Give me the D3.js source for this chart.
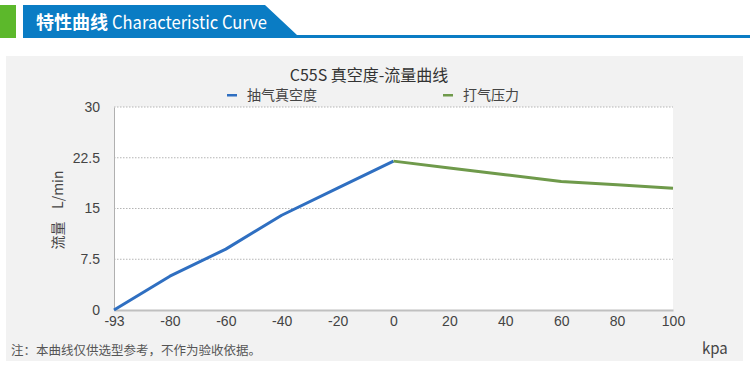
<!DOCTYPE html>
<html>
<head>
<meta charset="utf-8">
<script src="https://cdn.jsdelivr.net/npm/d3@7"></script>
<style>
  body { margin: 0; background: #fff; }
  svg { display: block; font-family: "Noto Sans CJK SC", "Noto Sans", sans-serif; }
</style>
</head>
<body>
<svg id="chart" width="750" height="375"></svg>
<script>
const xLabels = ["-93", "-80", "-60", "-40", "-20", "0", "20", "40", "60", "80", "100"];
const yTicks = [0, 7.5, 15, 22.5, 30];

// 抽气真空度 (blue), 打气压力 (green)
const suctionX = ["-93", "-80", "-60", "-40", "-20", "0"];
const suctionY = [0, 5, 9, 14, 18, 22];
const pressureX = ["0", "20", "40", "60", "80", "100"];
const pressureY = [22, 21, 20, 19, 18.5, 18];

const seriesNames = ["抽气真空度", "打气压力"];
const seriesColors = ["#2f6fc1", "#6f9a4b"];

const svg = d3.select("#chart");

// header banner
svg.append("rect").attr("x", 0).attr("y", 5).attr("width", 16).attr("height", 33).attr("fill", "#5cb82b");
svg.append("path")
  .attr("d", "M23,5 L265,5 L297,35 L750,35 L750,38 L23,38 Z")
  .attr("fill", "#0a7cc4");
svg.append("text").attr("x", 36).attr("y", 29).attr("fill", "#fff")
  .attr("font-size", 18).attr("font-weight", "bold")
  .attr("textLength", 72).text("特性曲线");
svg.append("text").attr("x", 112).attr("y", 29).attr("fill", "#fff")
  .attr("font-size", 18).attr("textLength", 155).attr("lengthAdjust", "spacingAndGlyphs")
  .text("Characteristic Curve");

// chart panel
svg.append("rect").attr("x", 6).attr("y", 56).attr("width", 737).attr("height", 305).attr("fill", "#f2f2f2");

const margin = { left: 114, right: 77, top: 107, bottom: 65 };
const width = 750 - margin.left - margin.right;
const height = 375 - margin.top - margin.bottom;

const x = d3.scalePoint().domain(xLabels).range([0, width]);
const y = d3.scaleLinear().domain([0, 30]).range([height, 0]);

const g = svg.append("g").attr("transform", `translate(${margin.left},${margin.top})`);

g.append("rect").attr("x", 0).attr("y", 0).attr("width", width).attr("height", height).attr("fill", "#fff");

// grid
g.append("g")
  .selectAll("line")
  .data(yTicks.filter((d) => d > 0))
  .join("line")
  .attr("x1", 0)
  .attr("x2", width)
  .attr("y1", (d) => y(d))
  .attr("y2", (d) => y(d))
  .attr("stroke", "#b5b5b5")
  .attr("stroke-dasharray", "1.5,1.5");

// y axis
const yAxis = g.append("g")
  .call(d3.axisLeft(y).tickValues(yTicks).tickFormat((d) => String(d)).tickSize(0).tickPadding(14));
yAxis.select(".domain").attr("stroke", "#b0b0b0");
yAxis.selectAll("text").attr("font-size", 14).attr("fill", "#444").attr("font-family", "inherit");

// x axis
const xAxis = g.append("g")
  .attr("transform", `translate(0,${height})`)
  .call(d3.axisBottom(x).tickSize(0).tickPadding(6));
xAxis.select(".domain").attr("stroke", "#c0c0c0").attr("stroke-width", 2);
xAxis.selectAll("text").attr("font-size", 14).attr("fill", "#444").attr("font-family", "inherit");

// lines
const line = d3.line().x((d) => x(d[0])).y((d) => y(d[1]));
const series = [d3.zip(suctionX, suctionY), d3.zip(pressureX, pressureY)];
series.forEach((pts, i) => {
  g.append("path")
    .datum(pts)
    .attr("d", line)
    .attr("fill", "none")
    .attr("stroke", seriesColors[i])
    .attr("stroke-width", 3)
    .attr("stroke-linejoin", "round");
});

// title
svg.append("text")
  .attr("x", 369)
  .attr("y", 81)
  .attr("text-anchor", "middle")
  .attr("font-size", 16)
  .attr("fill", "#333")
  .text("C55S 真空度-流量曲线");

// legend
const legendX = [227, 443];
seriesNames.forEach((name, i) => {
  svg.append("rect")
    .attr("x", legendX[i])
    .attr("y", 94)
    .attr("width", 10)
    .attr("height", 2.5)
    .attr("fill", seriesColors[i]);
  svg.append("text")
    .attr("x", legendX[i] + 20)
    .attr("y", 100)
    .attr("font-size", 14)
    .attr("fill", "#444")
    .text(name);
});

// axis titles
svg.append("text")
  .attr("transform", "translate(63,210) rotate(-90)")
  .attr("text-anchor", "middle")
  .attr("font-size", 14)
  .attr("fill", "#444")
  .attr("xml:space", "preserve")
  .text("流量    L/min");

svg.append("text")
  .attr("x", 702)
  .attr("y", 354)
  .attr("font-size", 15)
  .attr("fill", "#444")
  .text("kpa");

svg.append("text")
  .attr("x", 11)
  .attr("y", 355)
  .attr("font-size", 12.5)
  .attr("fill", "#555")
  .text("注：本曲线仅供选型参考，不作为验收依据。");
</script>
</body>
</html>
